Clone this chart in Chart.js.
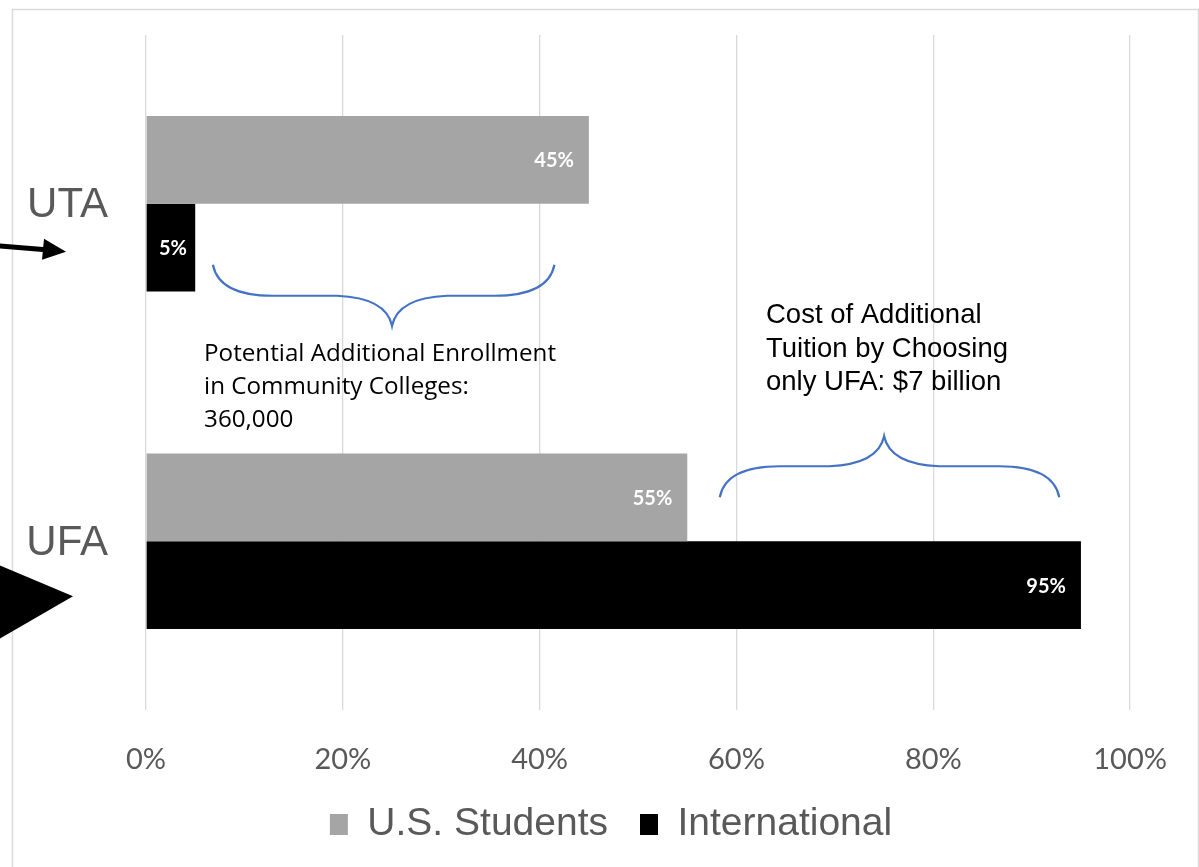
<!DOCTYPE html>
<html>
<head>
<meta charset="utf-8">
<title>UTA vs UFA</title>
<script src="https://cdn.jsdelivr.net/npm/chart.js@4.4.1/dist/chart.umd.min.js"></script>
<style>
  html, body { margin:0; padding:0; background:#fff; }
  canvas { display:block; }
</style>
</head>
<body>
<canvas id="chart" width="1199" height="867"></canvas>
<script>
// data
const categories = ['UTA', 'UFA'];
const seriesNames = ['U.S. Students', 'International'];
const usStudents = [0.45, 0.55];
const international = [0.05, 0.95];
const xTicks = [0, 0.2, 0.4, 0.6, 0.8, 1];
const noteEnroll = ['Potential Additional Enrollment', 'in Community Colleges:', '360,000'];
const noteCost = ['Cost of Additional', 'Tuition by Choosing', 'only UFA: $7 billion'];

const GREY_TEXT = '#595959';
const BRACE_BLUE = '#4472C4';
const pct = v => Math.round(v * 100) + '%';

// white page + thin grey frame around the whole thing
const framePlugin = {
  id: 'frame',
  beforeDraw(chart){
    const ctx = chart.ctx;
    ctx.save();
    ctx.fillStyle = '#fff';
    ctx.fillRect(0, 0, chart.width, chart.height);
    ctx.strokeStyle = '#d9d9d9';
    ctx.lineWidth = 1.5;
    ctx.strokeRect(12.5, 9.5, 1186, 900);
    ctx.restore();
  }
};

// category names sit far left of the axis, drawn here so they are not clipped
const categoryLabels = {
  id: 'categoryLabels',
  afterDraw(chart){
    const ctx = chart.ctx, ys = chart.scales.y;
    ctx.save();
    ctx.font = '42px "Liberation Sans", Arial';
    ctx.fillStyle = GREY_TEXT;
    ctx.textAlign = 'right';
    ctx.textBaseline = 'middle';
    categories.forEach((c, i) => ctx.fillText(c, 108, ys.getPixelForValue(i) + 2));
    ctx.restore();
  }
};

// value labels inside the bar ends
const barLabels = {
  id: 'barLabels',
  afterDatasetsDraw(chart){
    const ctx = chart.ctx;
    ctx.save();
    ctx.font = 'bold 20px Lato';
    ctx.fillStyle = '#fff';
    ctx.textBaseline = 'middle';
    chart.data.datasets.forEach((ds, i) => {
      chart.getDatasetMeta(i).data.forEach((bar, j) => {
        const txt = pct(ds.data[j]);
        const w = ctx.measureText(txt).width;
        const len = bar.x - bar.base;
        if (len < w + 30){
          ctx.textAlign = 'center';
          ctx.fillText(txt, bar.base + len / 2 + 2, bar.y + 1);
        } else {
          ctx.textAlign = 'right';
          ctx.fillText(txt, bar.x - 15, bar.y + 1);
        }
      });
    });
    ctx.restore();
  }
};

function drawBrace(ctx, x0, x1, xc, yEnd, yMid, yTip){
  const dir = yMid > yEnd ? 1 : -1;
  ctx.beginPath();
  ctx.moveTo(x0, yEnd);
  ctx.quadraticCurveTo(x0 + 6, yMid, x0 + 60, yMid);
  ctx.lineTo(xc - 55, yMid);
  ctx.quadraticCurveTo(xc - 6, yMid + dir * 2, xc, yTip);
  ctx.quadraticCurveTo(xc + 6, yMid + dir * 2, xc + 55, yMid);
  ctx.lineTo(x1 - 60, yMid);
  ctx.quadraticCurveTo(x1 - 6, yMid, x1, yEnd);
  ctx.stroke();
}

// braces, notes and the two arrows on the left
const notesPlugin = {
  id: 'notes',
  afterDraw(chart){
    const ctx = chart.ctx;
    const xs = chart.scales.x, ys = chart.scales.y;
    const yUTA = ys.getPixelForValue(0);
    const yUFA = ys.getPixelForValue(1);
    ctx.save();

    ctx.strokeStyle = BRACE_BLUE;
    ctx.lineWidth = 2.2;
    drawBrace(ctx, xs.getPixelForValue(0.068), xs.getPixelForValue(0.415), xs.getPixelForValue(0.25),
      yUTA + 61, yUTA + 92, yUTA + 122);
    drawBrace(ctx, xs.getPixelForValue(0.583), xs.getPixelForValue(0.928), xs.getPixelForValue(0.75),
      yUFA - 44, yUFA - 75, yUFA - 105);

    ctx.fillStyle = '#000';
    ctx.textAlign = 'left';
    ctx.textBaseline = 'alphabetic';
    ctx.font = '24.2px "Open Sans"';
    noteEnroll.forEach((line, i) => {
      ctx.fillText(line, xs.getPixelForValue(0.059), yUTA + 157 + i * 33);
    });
    ctx.font = '27.5px "Liberation Sans", Arial';
    noteCost.forEach((line, i) => {
      ctx.fillText(line, xs.getPixelForValue(0.63), yUFA - 218 + i * 33.5);
    });

    // thin arrow pointing at UTA
    ctx.strokeStyle = '#000';
    ctx.lineWidth = 5;
    ctx.beginPath();
    ctx.moveTo(-2, yUTA + 42);
    ctx.lineTo(46, yUTA + 46);
    ctx.stroke();
    ctx.beginPath();
    ctx.moveTo(44, yUTA + 35);
    ctx.lineTo(66, yUTA + 48);
    ctx.lineTo(42, yUTA + 56);
    ctx.closePath();
    ctx.fill();

    // big triangle pointing at UFA
    ctx.beginPath();
    ctx.moveTo(-10, yUFA + 20);
    ctx.lineTo(73, yUFA + 55);
    ctx.lineTo(-10, yUFA + 103);
    ctx.closePath();
    ctx.fill();

    ctx.restore();
  }
};

new Chart(document.getElementById('chart'), {
  type: 'bar',
  data: {
    labels: categories,
    datasets: [
      { label: seriesNames[0], data: usStudents, backgroundColor: '#a5a5a5' },
      { label: seriesNames[1], data: international, backgroundColor: '#000000' }
    ]
  },
  options: {
    indexAxis: 'y',
    responsive: false,
    animation: false,
    devicePixelRatio: 1,
    categoryPercentage: 0.52,
    barPercentage: 1,
    layout: { padding: { left: 91, right: 68, top: 35, bottom: 13 } },
    scales: {
      x: {
        min: 0, max: 1,
        afterBuildTicks: s => { s.ticks = xTicks.map(v => ({ value: v })); },
        afterFit: s => { s.height = 63; },
        grid: { color: '#d9d9d9', lineWidth: 1.3, drawTicks: false },
        border: { display: false },
        ticks: {
          padding: 32,
          color: GREY_TEXT,
          font: { family: 'Lato', size: 29 },
          callback: v => pct(v)
        }
      },
      y: {
        afterFit: s => { s.width = 55; },
        grid: { display: false, drawTicks: false },
        border: { display: false },
        ticks: { display: false }
      }
    },
    plugins: {
      legend: {
        position: 'bottom',
        labels: {
          color: GREY_TEXT,
          font: { family: '"Liberation Sans", Arial', size: 39 },
          boxWidth: 18,
          boxHeight: 21,
          padding: 32
        }
      },
      tooltip: { enabled: false }
    }
  },
  plugins: [framePlugin, categoryLabels, barLabels, notesPlugin]
});
</script>
</body>
</html>
